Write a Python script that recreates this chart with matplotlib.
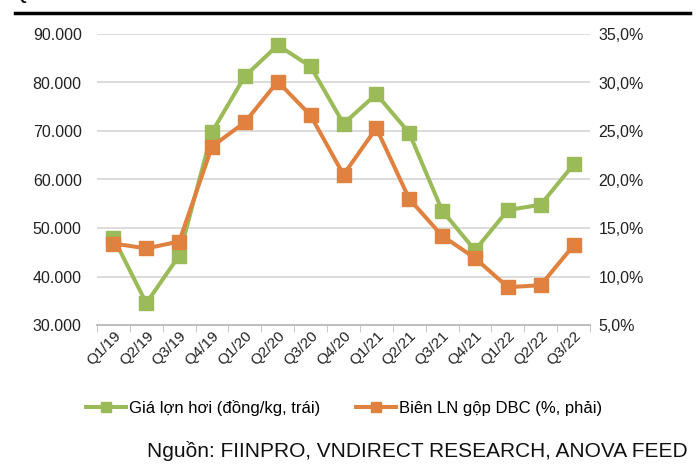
import matplotlib.pyplot as plt
import numpy as np
from matplotlib.ticker import FuncFormatter

plt.rcParams['font.family'] = ['Liberation Sans', 'DejaVu Sans']

quarters = ["Q1/19", "Q2/19", "Q3/19", "Q4/19", "Q1/20", "Q2/20", "Q3/20", "Q4/20",
            "Q1/21", "Q2/21", "Q3/21", "Q4/21", "Q1/22", "Q2/22", "Q3/22"]
gia_lon_hoi = [48000, 34500, 44300, 69800, 81300, 87700, 83300, 71500,
               77600, 69600, 53600, 45400, 53700, 54800, 63100]
bien_ln_gop = [13.4, 12.9, 13.6, 23.4, 25.9, 30.1, 26.6, 20.5,
               25.3, 18.0, 14.2, 11.9, 8.9, 9.1, 13.2]

green = "#9BBB59"
orange = "#E0813F"

fig = plt.figure(figsize=(7, 4.73), dpi=100)
ax = fig.add_axes([97/700, 1-325/473, (590-97)/700, (325-34)/473])
ax2 = ax.twinx()

x = np.arange(len(quarters))
l1, = ax.plot(x, gia_lon_hoi, color=green, lw=2.9, marker="s", ms=10, label="Giá lợn hơi (đồng/kg, trái)")
l2, = ax2.plot(x, bien_ln_gop, color=orange, lw=2.9, marker="s", ms=10, label="Biên LN gộp DBC (%, phải)")

ax.set_ylim(30000, 90000)
ax.set_yticks(np.arange(30000, 90001, 10000))
ax.yaxis.set_major_formatter(FuncFormatter(lambda v, p: f"{int(v):,}".replace(",", ".")))
ax2.set_ylim(5, 35)
ax2.set_yticks(np.arange(5, 35.1, 5))
ax2.yaxis.set_major_formatter(FuncFormatter(lambda v, p: f"{v:.1f}%".replace(".", ",")))

ax.set_xlim(-0.5, len(quarters) - 0.5)
ax.set_xticks(x)
ax.set_xticklabels(quarters, rotation=45, ha="right", rotation_mode="anchor")
ax.set_xticks(np.arange(-0.5, len(quarters), 1), minor=True)
ax.tick_params(axis="x", which="major", length=0, pad=3, labelsize=11, colors="#222222")
ax.tick_params(axis="x", which="minor", length=5, color="#BFBFBF")
ax.tick_params(axis="y", length=0, labelsize=11.5, pad=11, colors="#222222")
ax2.tick_params(axis="y", length=0, labelsize=11.5, pad=6, colors="#222222")

ax.grid(axis="y", color="#D9D9D9", lw=1.3)
ax.set_axisbelow(True)
for a in (ax, ax2):
    for s in ("left", "right", "top"):
        a.spines[s].set_visible(False)
    a.spines["bottom"].set_color("#BFBFBF")
    a.spines["bottom"].set_linewidth(1.3)

fig.legend(handles=[l1, l2], loc="center", bbox_to_anchor=(344/700, 1-408/473), ncol=2,
           frameon=False, fontsize=12, handlelength=2.4, columnspacing=2.1,
           handletextpad=0.2, markerscale=0.65)

fig.text(688/700, 1-451/473, "Nguồn: FIINPRO, VNDIRECT RESEARCH, ANOVA FEED",
         ha="right", va="center", fontsize=15, color="#111111")

# header line and cut-off title at top
fig.add_artist(plt.Line2D([15/700, 690/700], [1-13/473, 1-13/473], color="black", lw=2.5))
fig.text(15/700, 1+4/473, "Q3/22", ha="left", va="center", fontsize=11, weight="bold")

fig.savefig("out.png", dpi=100)
